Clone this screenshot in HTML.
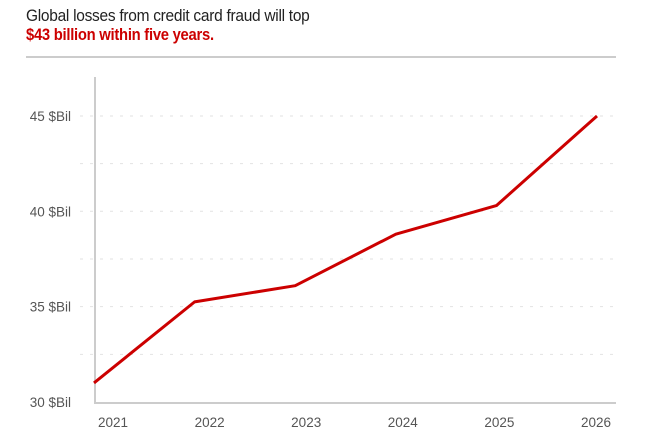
<!DOCTYPE html>
<html><head><meta charset="utf-8"><style>
body{margin:0;background:#fff;font-family:"Liberation Sans",sans-serif;}
#wrap{position:relative;width:663px;height:447px;overflow:hidden;}
.t1{position:absolute;left:26px;top:6px;font-size:17px;color:#222;letter-spacing:-0.3px;transform:scaleX(0.91);transform-origin:0 0;white-space:nowrap}
.t2{position:absolute;left:26px;top:25px;font-size:17px;color:#c00;font-weight:bold;letter-spacing:-0.3px;transform:scaleX(0.87);transform-origin:0 0;white-space:nowrap}
</style></head><body>
<div id="wrap">
<div class="t1">Global losses from credit card fraud will top</div>
<div class="t2">$43 billion within five years.</div>
<svg id="svg" width="663" height="447" style="position:absolute;left:0;top:0">
<line x1="26" y1="57" x2="616" y2="57" stroke="#ccc" stroke-width="2"/>
</svg>
</div>
<script>
const years=["2021","2022","2023","2024","2025","2026"];
const losses=[31.0,35.25,36.1,38.8,40.3,45.0];
const yTicks=[30,35,40,45];
const yMinor=[32.5,37.5,42.5];
const NS="http://www.w3.org/2000/svg";
const svg=document.getElementById('svg');
function y(v){return 402-(v-30)*19.07;}
function xp(i){return 94+i*(597-94)/(years.length-1);}
function xl(i){return 113+i*(596-113)/(years.length-1);}
function mk(tag,a){const e=document.createElementNS(NS,tag);for(const k in a)e.setAttribute(k,a[k]);svg.appendChild(e);return e;}
yTicks.concat(yMinor).forEach(v=>{
 if(v===30)return;
 const g=mk('line',{x1:80,x2:616,y1:y(v),y2:y(v),stroke:'#e2e2e2','stroke-width':1,'stroke-dasharray':'3,7'});
 
 
});
yTicks.forEach(v=>{
 const t=mk('text',{x:71,y:y(v)+5,'text-anchor':'end','font-size':13.5,fill:'#555'});
 t.textContent=v+' $Bil';
 
 
});
const ax=mk('line',{x1:95,x2:95,y1:77,y2:403,stroke:'#ccc','stroke-width':2});


const bx=mk('line',{x1:94,x2:616,y1:403,y2:403,stroke:'#ccc','stroke-width':2});


years.forEach((yr,i)=>{
 const t=mk('text',{x:xl(i),y:427,'text-anchor':'middle','font-size':13.5,fill:'#555'});
 t.textContent=yr;
 
 
});
const pl=mk('polyline',{points:losses.map((v,i)=>xp(i)+','+y(v)).join(' '),fill:'none',stroke:'#c00','stroke-width':3,'stroke-linejoin':'round'});


</script>
</body></html>
